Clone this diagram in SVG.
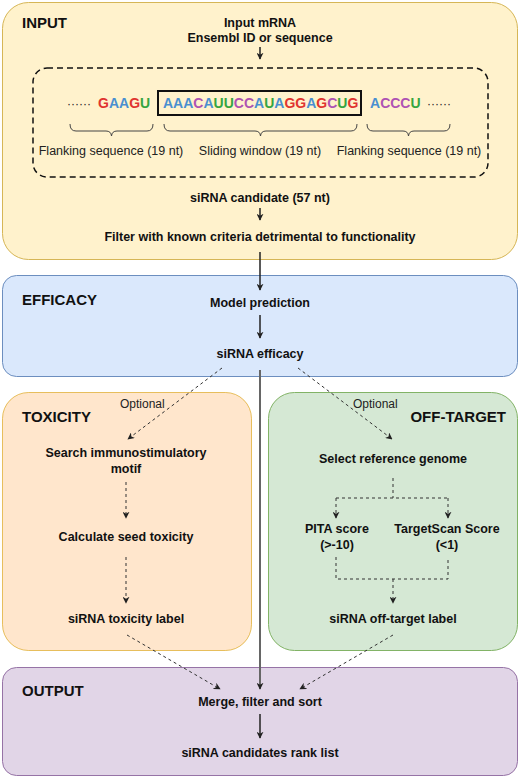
<svg xmlns="http://www.w3.org/2000/svg" width="520" height="778" viewBox="0 0 520 778">
<defs>
<style>
text{font-family:"Liberation Sans",Arial,Helvetica,sans-serif;fill:#111}
.t{font-size:15px;font-weight:bold}
.b{font-size:12.5px;font-weight:bold;text-anchor:middle}
.r{font-size:12.5px;text-anchor:middle;fill:#222}
.o{font-size:12px;fill:#222}
.seq{font-size:14px;font-weight:bold}
.G{fill:#e0342f}.A{fill:#4a8fd0}.C{fill:#ae52b3}.U{fill:#35a540}
.sol{fill:none;stroke:#222;stroke-width:1.5}
.dash{fill:none;stroke:#333;stroke-width:1;stroke-dasharray:3,3}
.brace{fill:none;stroke:#444;stroke-width:1}
</style>
<marker id="ah" viewBox="0 0 10 10" refX="9" refY="5" markerWidth="7" markerHeight="7" markerUnits="userSpaceOnUse" orient="auto">
<path d="M0,0 L10,5 L0,10 L3,5 z" fill="#222"/>
</marker>
</defs>

<g id="input">
<rect x="2.5" y="2.5" width="515" height="257" rx="26" fill="#fff2cc" stroke="#d6b656" stroke-width="1"/>
<text class="t" x="22" y="28">INPUT</text>
<text class="b" x="260" y="27">Input mRNA</text>
<text class="b" x="260" y="42">Ensembl ID or sequence</text>
<rect x="33" y="68" width="455" height="109" rx="14" fill="none" stroke="#111" stroke-width="1.5" stroke-dasharray="6,4"/>
<text class="o" x="67" y="108" fill="#333">······</text>
<text class="seq" x="98" y="108"><tspan class="G">G</tspan><tspan class="A">AA</tspan><tspan class="G">G</tspan><tspan class="U">U</tspan></text>
<rect x="158" y="91" width="203" height="24" fill="none" stroke="#111" stroke-width="2"/>
<text class="seq" x="163" y="108"><tspan class="A">AAA</tspan><tspan class="C">C</tspan><tspan class="A">A</tspan><tspan class="U">UU</tspan><tspan class="C">CC</tspan><tspan class="A">A</tspan><tspan class="U">U</tspan><tspan class="A">A</tspan><tspan class="G">GG</tspan><tspan class="A">A</tspan><tspan class="G">G</tspan><tspan class="C">C</tspan><tspan class="U">U</tspan><tspan class="G">G</tspan></text>
<text class="seq" x="370" y="108"><tspan class="A">A</tspan><tspan class="C">CCC</tspan><tspan class="U">U</tspan></text>
<text class="o" x="427" y="108" fill="#333">······</text>
<path class="brace" d="M70,124 Q70,131 76,131 L106,131 Q111,131 111.5,136 Q112,131 117,131 L147,131 Q153,131 153,124"/>
<path class="brace" d="M164,124 Q164,131 170,131 L255,131 Q260,131 260.5,136 Q261,131 266,131 L351,131 Q357,131 357,124"/>
<path class="brace" d="M367,124 Q367,131 373,131 L403,131 Q408,131 408.5,136 Q409,131 414,131 L444,131 Q450,131 450,124"/>
<text class="r" x="111" y="155">Flanking sequence (19 nt)</text>
<text class="r" x="260" y="155">Sliding window (19 nt)</text>
<text class="r" x="409" y="155">Flanking sequence (19 nt)</text>
<text class="b" x="260" y="202">siRNA candidate (57 nt)</text>
<text class="b" x="260" y="241">Filter with known criteria detrimental to functionality</text>
</g>

<g id="efficacy">
<rect x="2.5" y="275.5" width="515" height="101" rx="14" fill="#dae8fc" stroke="#6c8ebf" stroke-width="1"/>
<text class="t" x="22" y="305">EFFICACY</text>
<text class="b" x="260" y="307">Model prediction</text>
<text class="b" x="260" y="358">siRNA efficacy</text>
</g>

<g id="toxicity">
<rect x="2.5" y="392.5" width="249" height="258" rx="26" fill="#ffe6cc" stroke="#d79b00" stroke-opacity="0.6" stroke-width="1"/>
<text class="t" x="22" y="422">TOXICITY</text>
<text class="b" x="126" y="457">Search immunostimulatory</text>
<text class="b" x="126" y="473">motif</text>
<text class="b" x="126" y="541">Calculate seed toxicity</text>
<text class="b" x="126" y="623">siRNA toxicity label</text>
</g>

<g id="offtarget">
<rect x="268.5" y="392.5" width="249" height="258" rx="26" fill="#d5e8d4" stroke="#82b366" stroke-width="1"/>
<text class="t" x="506" y="422" text-anchor="end">OFF-TARGET</text>
<text class="b" x="393" y="463">Select reference genome</text>
<text class="b" x="337" y="533">PITA score</text>
<text class="b" x="337" y="549">(&gt;-10)</text>
<text class="b" x="447" y="533">TargetScan Score</text>
<text class="b" x="447" y="549">(&lt;1)</text>
<text class="b" x="393" y="623">siRNA off-target label</text>
</g>

<g id="output">
<rect x="2.5" y="667.5" width="515" height="108" rx="14" fill="#e1d5e7" stroke="#9673a6" stroke-width="1"/>
<text class="t" x="22" y="696">OUTPUT</text>
<text class="b" x="260" y="706">Merge, filter and sort</text>
<text class="b" x="260" y="757">siRNA candidates rank list</text>
</g>

<g id="optional-labels">
<text class="o" x="120" y="408">Optional</text>
<text class="o" x="353" y="408">Optional</text>
</g>

<g id="connectors">
<line class="sol" x1="260" y1="47" x2="260" y2="59" marker-end="url(#ah)"/>
<line class="sol" x1="260" y1="208" x2="260" y2="220" marker-end="url(#ah)"/>
<line class="sol" x1="260" y1="252" x2="260" y2="290" marker-end="url(#ah)"/>
<line class="sol" x1="260" y1="315" x2="260" y2="338" marker-end="url(#ah)"/>
<line x1="260" y1="370" x2="260" y2="689" stroke="#666" stroke-width="2" marker-end="url(#ah)"/>
<line class="sol" x1="260" y1="714" x2="260" y2="738" marker-end="url(#ah)"/>
<line class="dash" x1="222" y1="368" x2="128" y2="439" marker-end="url(#ah)"/>
<line class="dash" x1="298" y1="368" x2="392" y2="439" marker-end="url(#ah)"/>
<line class="dash" x1="126" y1="482" x2="126" y2="518" marker-end="url(#ah)"/>
<line class="dash" x1="126" y1="557" x2="126" y2="603" marker-end="url(#ah)"/>
<path class="dash" d="M393,478 L393,498 M336,498 L448,498"/>
<line class="dash" x1="336" y1="498" x2="336" y2="518" marker-end="url(#ah)"/>
<line class="dash" x1="448" y1="498" x2="448" y2="518" marker-end="url(#ah)"/>
<path class="dash" d="M336,557 L336,579 L448,579 L448,557"/>
<line class="dash" x1="393" y1="579" x2="393" y2="603" marker-end="url(#ah)"/>
<line class="dash" x1="127" y1="635" x2="220" y2="689" marker-end="url(#ah)"/>
<line class="dash" x1="393" y1="635" x2="300" y2="689" marker-end="url(#ah)"/>
</g>
</svg>
